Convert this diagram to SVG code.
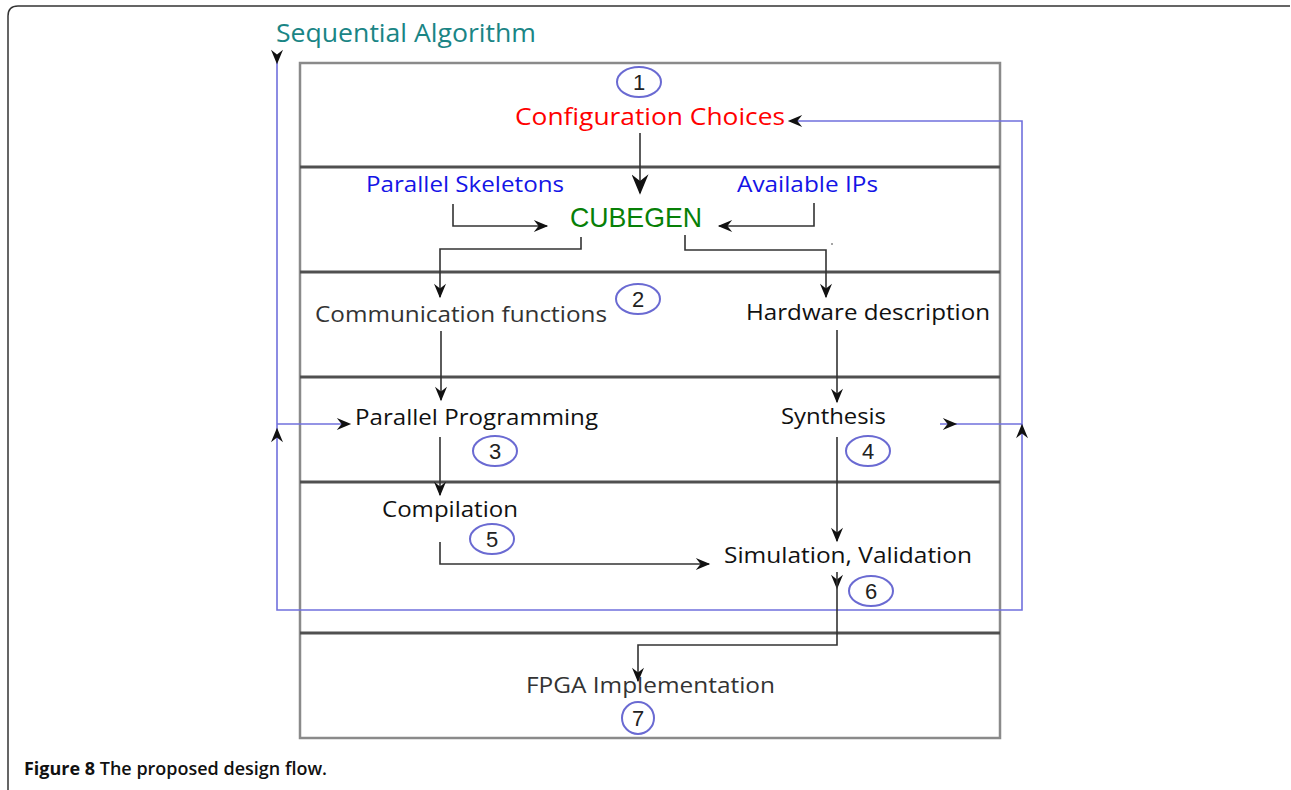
<svg xmlns="http://www.w3.org/2000/svg" width="1291" height="790" viewBox="0 0 1291 790">
<defs>
<marker id="ah" viewBox="0 0 12 10" refX="11" refY="5" markerWidth="16" markerHeight="12" markerUnits="userSpaceOnUse" orient="auto">
<path d="M0,0 L12,5 L0,10 L4,5 z" fill="#111"/>
</marker>
<marker id="ahBig" viewBox="0 0 12 10" refX="11" refY="5" markerWidth="28" markerHeight="17" markerUnits="userSpaceOnUse" orient="auto">
<path d="M0,0 L12,5 L0,10 L4,5 z" fill="#111"/>
</marker>
<style>
.lbl{font-family:"Open Sans","DejaVu Sans",sans-serif;font-size:21px;fill:#111}
.num{font-family:"Liberation Sans",Arial,sans-serif;font-size:22px;fill:#222;text-anchor:middle}
.ell{fill:none;stroke:#6a6ad2;stroke-width:2}
.blk{fill:none;stroke:#333;stroke-width:1.6}
.blue{fill:none;stroke:#7070dd;stroke-width:1.6}
.div{stroke:#505050;stroke-width:3}
</style>
</defs>
<rect width="1291" height="790" fill="#fff"/>
<path d="M8,790 L8,16 Q8,6 18,6 L1290,6" fill="none" stroke="#333" stroke-width="1.5"/>

<g id="frame">
<rect x="300" y="63" width="700" height="675" fill="none" stroke="#8a8a8a" stroke-width="2.5"/>
<line class="div" x1="300" y1="167" x2="1000" y2="167"/>
<line class="div" x1="300" y1="272" x2="1000" y2="272"/>
<line class="div" x1="300" y1="377" x2="1000" y2="377"/>
<line class="div" x1="300" y1="482" x2="1000" y2="482"/>
<line class="div" x1="300" y1="633" x2="1000" y2="633"/>
</g>

<g id="connectors">
<path class="blue" d="M277,60 L277,610 L1022,610 L1022,121 L790,121"/>
<path class="blue" d="M277,424 L348,424"/>
<path class="blue" d="M940,424 L1022,424"/>
<path d="M277,46 L277,63" fill="none" stroke="none" marker-end="url(#ah)"/>
<path d="M805,121 L789,121" fill="none" stroke="none" marker-end="url(#ah)"/>
<path d="M335,424 L350,424" fill="none" stroke="none" marker-end="url(#ah)"/>
<path d="M277,445 L277,429" fill="none" stroke="none" marker-end="url(#ah)"/>
<path d="M940,424 L956,424" fill="none" stroke="none" marker-end="url(#ah)"/>
<path d="M1022,445 L1022,425" fill="none" stroke="none" marker-end="url(#ah)"/>
<path class="blk" d="M640,133 L640,193" marker-end="url(#ahBig)"/>
<path class="blk" d="M453,204 L453,226 L547,226" marker-end="url(#ah)"/>
<path class="blk" d="M814,203 L814,226 L719,226" marker-end="url(#ah)"/>
<path class="blk" d="M581,237 L581,249 L440,249 L440,297" marker-end="url(#ah)"/>
<path class="blk" d="M685,235 L685,250 L826,250 L826,297" marker-end="url(#ah)"/>
<path class="blk" d="M441,331 L441,400" marker-end="url(#ah)"/>
<path class="blk" d="M837,330 L837,402" marker-end="url(#ah)"/>
<path class="blk" d="M440,437 L440,495" marker-end="url(#ah)"/>
<path class="blk" d="M837,437 L837,541" marker-end="url(#ah)"/>
<path class="blk" d="M440,542 L440,564 L709,564" marker-end="url(#ah)"/>
<path d="M837,572 L837,588" fill="none" stroke="none" marker-end="url(#ah)"/>
<path class="blk" d="M837,572 L837,645 L638,645 L638,681" marker-end="url(#ah)"/>
<circle cx="832" cy="244" r="0.8" fill="#333"/>
</g>

<g id="sequential">
<text x="276" y="42" textLength="260" lengthAdjust="spacingAndGlyphs" style="font-family:'Open Sans','DejaVu Sans',sans-serif;font-size:25px;fill:#1a8585">Sequential Algorithm</text>
</g>
<g id="step1">
<ellipse class="ell" cx="639" cy="82" rx="22" ry="15"/>
<text class="num" x="639" y="90">1</text>
</g>
<g id="config">
<text x="515" y="125" textLength="270" lengthAdjust="spacingAndGlyphs" style="font-family:'Open Sans','DejaVu Sans',sans-serif;font-size:24px;fill:#ff0000">Configuration Choices</text>
</g>
<g id="skeletons">
<text class="lbl" x="366" y="192" textLength="198" lengthAdjust="spacingAndGlyphs" style="fill:#1414e6">Parallel Skeletons</text>
</g>
<g id="ips">
<text class="lbl" x="737" y="192" textLength="141" lengthAdjust="spacingAndGlyphs" style="fill:#1414e6">Available IPs</text>
</g>
<g id="cubegen">
<text x="570" y="227" textLength="132" lengthAdjust="spacingAndGlyphs" style="font-family:'Liberation Sans',Arial,sans-serif;font-size:28px;fill:#078007">CUBEGEN</text>
</g>
<g id="comm">
<text class="lbl" x="315" y="322" textLength="292" lengthAdjust="spacingAndGlyphs" style="fill:#333">Communication functions</text>
<ellipse class="ell" cx="638" cy="299" rx="22" ry="15"/>
<text class="num" x="638" y="307">2</text>
</g>
<g id="hardware">
<text class="lbl" x="746" y="320" textLength="244" lengthAdjust="spacingAndGlyphs">Hardware description</text>
</g>
<g id="parprog">
<text class="lbl" x="355" y="425" textLength="243" lengthAdjust="spacingAndGlyphs">Parallel Programming</text>
<ellipse class="ell" cx="495" cy="451" rx="22" ry="15"/>
<text class="num" x="495" y="459">3</text>
</g>
<g id="synthesis">
<text class="lbl" x="781" y="424" textLength="105" lengthAdjust="spacingAndGlyphs">Synthesis</text>
<ellipse class="ell" cx="868" cy="451" rx="22" ry="15"/>
<text class="num" x="868" y="459">4</text>
</g>
<g id="compilation">
<text class="lbl" x="382" y="517" textLength="136" lengthAdjust="spacingAndGlyphs">Compilation</text>
<ellipse class="ell" cx="492" cy="539" rx="22" ry="15"/>
<text class="num" x="492" y="547">5</text>
</g>
<g id="simulation">
<text class="lbl" x="724" y="563" textLength="248" lengthAdjust="spacingAndGlyphs">Simulation, Validation</text>
<ellipse class="ell" cx="871" cy="591" rx="22" ry="15"/>
<text class="num" x="871" y="599">6</text>
</g>
<g id="fpga">
<text class="lbl" x="526" y="693" textLength="249" lengthAdjust="spacingAndGlyphs" style="fill:#333">FPGA Implementation</text>
<ellipse class="ell" cx="638" cy="718" rx="16" ry="16"/>
<text class="num" x="638" y="726">7</text>
</g>
<g id="caption">
<text x="24" y="775" textLength="303" lengthAdjust="spacingAndGlyphs" style="font-family:'Open Sans','DejaVu Sans',sans-serif;font-size:18px;fill:#111;font-weight:600"><tspan font-weight="bold">Figure 8</tspan> The proposed design flow.</text>
</g>
</svg>
